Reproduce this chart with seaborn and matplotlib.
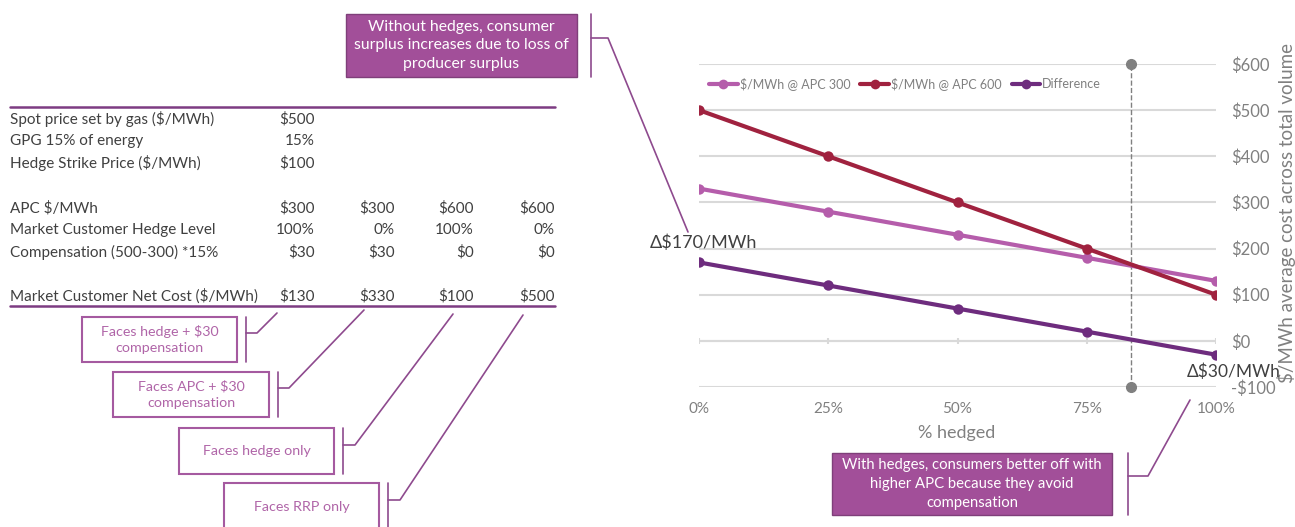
import numpy as np
import pandas as pd
import matplotlib.pyplot as plt
import seaborn as sns
from matplotlib.lines import Line2D
from matplotlib.patches import Rectangle
from matplotlib.ticker import FuncFormatter

# ---------------------------
# Data
# ---------------------------
hedged = [0.0, 0.25, 0.5, 0.75, 1.0]
apc_300 = [330, 280, 230, 180, 130]
apc_600 = [500, 400, 300, 200, 100]
difference = [170, 120, 70, 20, -30]
series_names = ["$/MWh @ APC 300", "$/MWh @ APC 600", "Difference"]
series_colors = ["#B55DAB", "#A0223F", "#6E2C7E"]
x_ticks = [0.0, 0.25, 0.5, 0.75, 1.0]
x_labels = ["0%", "25%", "50%", "75%", "100%"]
y_ticks = [-100, 0, 100, 200, 300, 400, 500, 600]
breakeven = 0.835

table_inputs = [("Spot price set by gas ($/MWh)", "$500"),
                ("GPG 15% of energy", "15%"),
                ("Hedge Strike Price ($/MWh)", "$100")]
table_rows = [("APC $/MWh", ["$300", "$300", "$600", "$600"]),
              ("Market Customer Hedge Level", ["100%", "0%", "100%", "0%"]),
              ("Compensation (500-300) *15%", ["$30", "$30", "$0", "$0"])]
net_row = ("Market Customer Net Cost ($/MWh)", ["$130", "$330", "$100", "$500"])

case_notes = ["Faces hedge + $30\ncompensation",
              "Faces APC + $30\ncompensation",
              "Faces hedge only",
              "Faces RRP only"]
note_top = "Without hedges, consumer\nsurplus increases due to loss of\nproducer surplus"
note_bottom = "With hedges, consumers better off with\nhigher APC because they avoid\ncompensation"

# ---------------------------
# Style
# ---------------------------
sns.set_theme(style="white")
plt.rcParams["font.family"] = ["Lato", "DejaVu Sans"]

W, H = 1295, 527
fig = plt.figure(figsize=(W / 100, H / 100), dpi=100)

GRID = "#D9D9D9"
GREY = "#808080"
PURPLE_LINE = "#7D3C82"
BOX_FILL = "#A24F99"
BOX_EDGE = "#A55AA0"
NOTE_TEXT = "#B065A8"

# chart axes placed in pixel terms
x0, x1, ytop, ybot = 699, 1216, 64, 387
ax = fig.add_axes([x0 / W, (H - ybot) / H, (x1 - x0) / W, (ybot - ytop) / H])
ax.set_facecolor("none")

df = pd.DataFrame({
    "hedged": hedged * 3,
    "series": [series_names[0]] * 5 + [series_names[1]] * 5 + [series_names[2]] * 5,
    "value": apc_300 + apc_600 + difference,
})
sns.lineplot(data=df, x="hedged", y="value", hue="series",
             palette=dict(zip(series_names, series_colors)),
             marker="o", markersize=7.5, markeredgewidth=0, linewidth=3,
             legend=False, ax=ax, zorder=3)

ax.set_xlim(0, 1)
ax.set_ylim(-100, 600)
ax.set_yticks(y_ticks)
ax.grid(axis="y", color=GRID, lw=1.5)
ax.grid(axis="x", visible=False)
for s in ax.spines.values():
    s.set_visible(False)

# horizontal axis drawn at zero with category ticks
ax.axhline(0, color=GRID, lw=1.5, zorder=1)
ax.vlines(x_ticks, -7, 7, color=GRID, lw=1.5, zorder=1)

ax.yaxis.tick_right()
ax.yaxis.set_major_formatter(FuncFormatter(lambda v, p: f"-${abs(int(v))}" if v < 0 else f"${int(v)}"))
ax.tick_params(axis="y", length=0, pad=11, labelcolor=GREY, labelsize=12)
ax.set_xticks(x_ticks)
ax.set_xticklabels(x_labels)
ax.tick_params(axis="x", length=0, pad=11, labelcolor=GREY, labelsize=11)
ax.set_xlabel("")
ax.set_ylabel("")

# break-even marker
ax.plot([breakeven, breakeven], [-100, 600], ls="--", lw=1, color=GREY,
        marker="o", markersize=7, clip_on=False, zorder=2)

handles = [Line2D([], [], color=c, lw=3, marker="o", markersize=7, markeredgewidth=0)
           for c in series_colors]
ax.legend(handles, series_names, loc="center left", ncol=3, frameon=False,
          bbox_to_anchor=(709 / W, 1 - 84 / H), bbox_transform=fig.transFigure,
          fontsize=9, labelcolor=GREY, handlelength=2.3, handletextpad=0.15,
          columnspacing=0.8, borderaxespad=0, borderpad=0)

# ---------------------------
# Overlay in pixel coordinates
# ---------------------------
ov = fig.add_axes([0, 0, 1, 1], zorder=5)
ov.set_xlim(0, W)
ov.set_ylim(H, 0)
ov.axis("off")
ov.patch.set_alpha(0)

ov.text(1286, 213, "$/MWh average cost across total volume", rotation=90,
        ha="center", va="center", color=GREY, fontsize=13.5)
ov.text(957, 433, "% hedged", ha="center", va="center", color=GREY, fontsize=13)
ov.text(650, 243, "Δ$170/MWh", ha="left", va="center", color="#404040", fontsize=13)
ov.text(1187, 372, "Δ$30/MWh", ha="left", va="center", color="#404040", fontsize=12.5)

# table
TXT = "#404040"
ov.plot([10, 555], [107, 107], color=PURPLE_LINE, lw=1.8)
ov.plot([10, 555], [306, 306], color=PURPLE_LINE, lw=1.8)
cols = [315, 395, 474, 555]
fs = 11
for i, (lab, val) in enumerate(table_inputs):
    y = 119 + 22 * i
    ov.text(10, y, lab, ha="left", va="center", color=TXT, fontsize=fs)
    ov.text(cols[0], y, val, ha="right", va="center", color=TXT, fontsize=fs)
for i, (lab, vals) in enumerate(table_rows):
    y = 208 + 22 * i
    ov.text(10, y, lab, ha="left", va="center", color=TXT, fontsize=fs)
    for cx, v in zip(cols, vals):
        ov.text(cx, y, v, ha="right", va="center", color=TXT, fontsize=fs)
ov.text(10, 296, net_row[0], ha="left", va="center", color=TXT, fontsize=fs)
for cx, v in zip(cols, net_row[1]):
    ov.text(cx, 296, v, ha="right", va="center", color=TXT, fontsize=fs)


def callout(box, text, bracket_x, elbow_y, elbow_x, target, filled, size, text_y=None):
    bx0, by0, bx1, by1 = box
    if filled:
        ov.add_patch(Rectangle((bx0, by0), bx1 - bx0, by1 - by0, facecolor=BOX_FILL,
                               edgecolor="#7F3F7A", lw=1, clip_on=False))
        tc = "white"
    else:
        ov.add_patch(Rectangle((bx0, by0), bx1 - bx0, by1 - by0, facecolor="white",
                               edgecolor=BOX_EDGE, lw=1.5, clip_on=False))
        tc = NOTE_TEXT
    ty = (by0 + by1) / 2 if text_y is None else text_y
    ov.text((bx0 + bx1) / 2, ty, text, ha="center", va="center", color=tc,
            fontsize=size, linespacing=1.45)
    lc = "#8E4A8E"
    ov.plot([bracket_x, bracket_x], [by0, min(by1, H)], color=lc, lw=1.2, clip_on=False)
    ov.plot([bracket_x, elbow_x, target[0]], [elbow_y, elbow_y, target[1]], color=lc, lw=1.2)


callout((346, 14, 577, 77), note_top, 591, 38, 608, (688, 232), True, 11.3)
callout((832, 453, 1112, 515), note_bottom, 1128, 476, 1148, (1190, 400), True, 10.7)
callout((82, 317, 237, 362), case_notes[0], 246, 333, 257, (277, 313), False, 10.3)
callout((113, 372, 269, 417), case_notes[1], 278, 388, 289, (364, 310), False, 10.3)
callout((179, 428, 334, 474), case_notes[2], 343, 445, 355, (453, 314), False, 10.3)
callout((224, 483, 379, 545), case_notes[3], 388, 500, 400, (523, 315), False, 10.3, text_y=507)

fig.savefig("out.png", dpi=100)
